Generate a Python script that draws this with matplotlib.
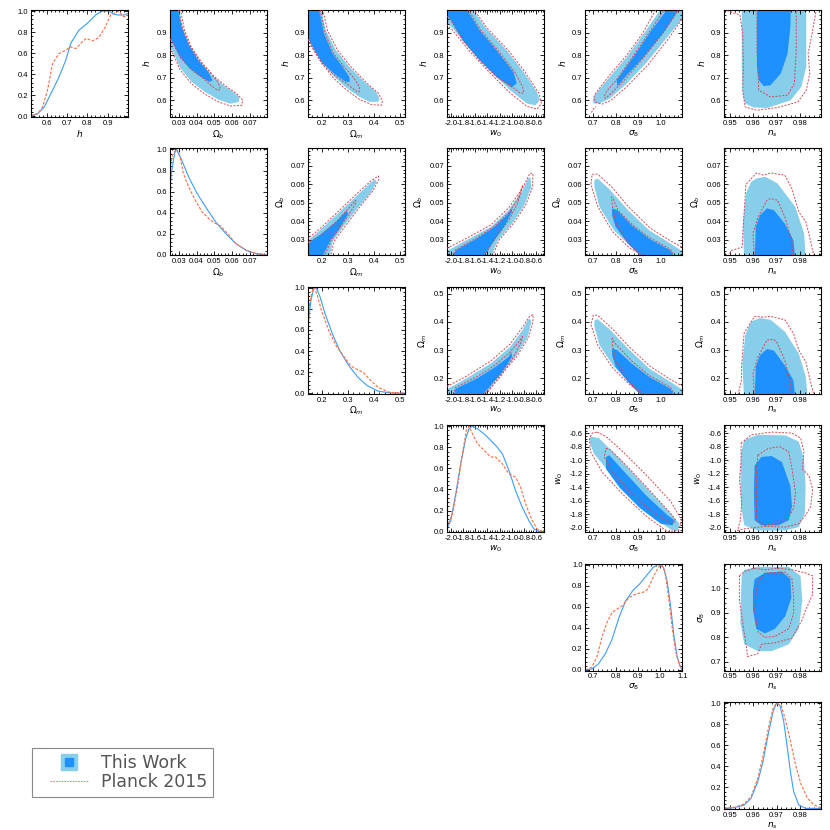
import numpy as np
import matplotlib
matplotlib.use("Agg")
import matplotlib.pyplot as plt
from matplotlib.ticker import AutoMinorLocator, FormatStrFormatter
from matplotlib.lines import Line2D
from matplotlib.patches import Rectangle
from matplotlib.legend_handler import HandlerTuple

plt.rcParams["font.family"] = ["Liberation Sans", "DejaVu Sans"]

# -----------------------------------------------------
# Parameters
# -----------------------------------------------------

param_labels = [r"$h$", r"$\Omega_b$", r"$\Omega_m$", r"$w_0$", r"$\sigma_8$", r"$n_s$"]
param_fmt = ["%.1f", "%.2f", "%.1f", "%.1f", "%.1f", "%.2f"]
x_limits = [(0.523, 1.0), (0.0248, 0.0795), (0.145, 0.52), (-2.07, -0.47), (0.665, 1.098), (0.9475, 0.989)]
y_limits = [(0.525, 1.0), (0.0215, 0.0795), (0.145, 0.525), (-2.07, -0.48), (0.665, 1.1), (0.9475, 0.989)]
param_ticks = [
    [0.6, 0.7, 0.8, 0.9],
    [0.03, 0.04, 0.05, 0.06, 0.07],
    [0.2, 0.3, 0.4, 0.5],
    [-2.0, -1.8, -1.6, -1.4, -1.2, -1.0, -0.8, -0.6],
    [0.7, 0.8, 0.9, 1.0],
    [0.95, 0.96, 0.97, 0.98],
]
s8_ticks_1d = [0.7, 0.8, 0.9, 1.0, 1.1]

# -----------------------------------------------------
# 1D marginals (x, this work, planck)
# -----------------------------------------------------

h_x_blue = [0.523, 0.556, 0.588, 0.629, 0.661, 0.694, 0.718, 0.759, 0.800, 0.840, 0.873, 0.906, 0.930, 0.954, 0.979, 1.0]
h_p_blue = [0.0, 0.025, 0.089, 0.248, 0.375, 0.533, 0.692, 0.819, 0.883, 0.962, 1.0, 1.0, 0.971, 0.962, 0.962, 0.978]
h_x_red = [0.523, 0.556, 0.580, 0.604, 0.629, 0.661, 0.694, 0.718, 0.743, 0.775, 0.795, 0.824, 0.857, 0.889, 0.914, 0.938, 0.954, 0.979, 1.0]
h_p_red = [0.01, 0.025, 0.089, 0.248, 0.502, 0.597, 0.629, 0.660, 0.644, 0.708, 0.740, 0.717, 0.749, 0.851, 0.962, 0.984, 1.0, 0.946, 0.962]

ob_x_blue = [0.0248, 0.0258, 0.0277, 0.0286, 0.0315, 0.0354, 0.0402, 0.0450, 0.0507, 0.0565, 0.0622, 0.0680, 0.0737, 0.0795]
ob_p_blue = [0.60, 0.776, 0.968, 1.0, 0.904, 0.744, 0.585, 0.457, 0.313, 0.201, 0.105, 0.042, 0.010, 0.0]
ob_x_red = [0.0248, 0.0263, 0.0277, 0.0290, 0.0306, 0.0325, 0.0354, 0.0392, 0.0430, 0.0478, 0.0507, 0.0536, 0.0574, 0.0622, 0.0680, 0.0737, 0.0795]
ob_p_red = [0.808, 0.936, 0.984, 1.0, 0.936, 0.776, 0.649, 0.521, 0.409, 0.329, 0.297, 0.272, 0.201, 0.105, 0.042, 0.010, 0.0]

om_x_blue = [0.145, 0.155, 0.166, 0.176, 0.190, 0.211, 0.239, 0.267, 0.302, 0.337, 0.373, 0.415, 0.471, 0.52]
om_p_blue = [0.654, 0.874, 0.994, 1.0, 0.921, 0.748, 0.560, 0.403, 0.261, 0.151, 0.072, 0.019, 0.0, 0.0]
om_x_red = [0.145, 0.152, 0.162, 0.169, 0.179, 0.197, 0.225, 0.253, 0.281, 0.309, 0.330, 0.358, 0.387, 0.415, 0.457, 0.52]
om_p_red = [0.748, 0.874, 0.984, 1.0, 0.937, 0.780, 0.591, 0.450, 0.355, 0.261, 0.230, 0.198, 0.119, 0.057, 0.009, 0.0]

w0_x_blue = [-2.07, -2.004, -1.922, -1.840, -1.758, -1.703, -1.648, -1.566, -1.429, -1.265, -1.155, -1.045, -0.936, -0.826, -0.717, -0.634, -0.552, -0.47]
w0_p_blue = [0.025, 0.105, 0.359, 0.644, 0.883, 0.978, 1.0, 0.978, 0.914, 0.819, 0.740, 0.581, 0.390, 0.232, 0.105, 0.025, 0.0, 0.0]
w0_x_red = [-2.07, -1.977, -1.895, -1.812, -1.747, -1.703, -1.648, -1.566, -1.429, -1.347, -1.265, -1.155, -1.045, -0.936, -0.854, -0.771, -0.662, -0.580, -0.497]
w0_p_red = [0.041, 0.168, 0.422, 0.740, 0.962, 1.0, 0.930, 0.835, 0.756, 0.708, 0.708, 0.644, 0.549, 0.517, 0.422, 0.263, 0.105, 0.025, 0.0]

s8_x_blue = [0.665, 0.693, 0.723, 0.754, 0.785, 0.816, 0.846, 0.877, 0.908, 0.939, 0.969, 0.992, 1.015, 1.031, 1.046, 1.061, 1.077, 1.092, 1.1]
s8_p_blue = [0.0, 0.009, 0.057, 0.152, 0.294, 0.500, 0.658, 0.753, 0.816, 0.896, 0.975, 1.0, 0.975, 0.848, 0.627, 0.342, 0.120, 0.025, 0.0]
s8_x_red = [0.665, 0.693, 0.716, 0.739, 0.762, 0.785, 0.808, 0.831, 0.862, 0.893, 0.923, 0.946, 0.969, 0.992, 1.008, 1.023, 1.038, 1.054, 1.069, 1.085, 1.1]
s8_p_red = [0.0, 0.025, 0.120, 0.310, 0.453, 0.547, 0.579, 0.611, 0.690, 0.722, 0.737, 0.769, 0.880, 0.975, 1.0, 0.927, 0.690, 0.405, 0.184, 0.057, 0.0]

ns_x_blue = [0.9475, 0.9519, 0.9562, 0.9591, 0.9620, 0.9642, 0.9664, 0.9686, 0.9700, 0.9715, 0.9730, 0.9744, 0.9759, 0.9773, 0.9795, 0.9824, 0.989]
ns_p_blue = [0.0, 0.006, 0.032, 0.096, 0.256, 0.447, 0.703, 0.927, 1.0, 0.974, 0.831, 0.607, 0.351, 0.160, 0.032, 0.0, 0.0]
ns_x_red = [0.9475, 0.9519, 0.9562, 0.9591, 0.9620, 0.9642, 0.9664, 0.9686, 0.9700, 0.9720, 0.9737, 0.9759, 0.9781, 0.9803, 0.9832, 0.9861, 0.989]
ns_p_red = [0.0, 0.010, 0.042, 0.112, 0.288, 0.495, 0.751, 0.958, 1.0, 0.974, 0.847, 0.639, 0.415, 0.240, 0.096, 0.032, 0.006]

# -----------------------------------------------------
# 2D contours, (x, y) vertices
# light = 95%, dark = 68%, red = Planck 2015
# -----------------------------------------------------

# h vs Omega_b
h_ob_light = [(0.022, 1.03), (0.022, 0.87), (0.0268, 0.815), (0.0306, 0.745), (0.0372, 0.681), (0.0448, 0.636), (0.0524, 0.602), (0.0590, 0.584), (0.0638, 0.592), (0.0641, 0.614), (0.0609, 0.636), (0.0552, 0.666), (0.0486, 0.711), (0.0420, 0.770), (0.0363, 0.837), (0.0325, 0.911), (0.0295, 1.03)]
h_ob_dark = [(0.022, 1.03), (0.0288, 1.03), (0.0315, 0.926), (0.0353, 0.852), (0.0410, 0.777), (0.0467, 0.725), (0.0490, 0.688), (0.0471, 0.681), (0.0420, 0.706), (0.0363, 0.740), (0.0306, 0.792), (0.0268, 0.852), (0.022, 0.91)]
h_ob_red95 = [(0.022, 0.86), (0.0268, 0.805), (0.0306, 0.736), (0.0372, 0.672), (0.0448, 0.626), (0.0524, 0.592), (0.0590, 0.574), (0.0655, 0.577), (0.0660, 0.600), (0.0625, 0.630), (0.0565, 0.662), (0.0495, 0.708), (0.0428, 0.768), (0.0370, 0.835), (0.0332, 0.911), (0.0302, 1.03)]
h_ob_red68 = [(0.0292, 1.03), (0.0318, 0.926), (0.0357, 0.852), (0.0415, 0.777), (0.0475, 0.725), (0.0520, 0.680), (0.0535, 0.650), (0.0520, 0.643), (0.0490, 0.660), (0.0440, 0.695), (0.0370, 0.735), (0.0310, 0.788), (0.0270, 0.848), (0.022, 0.91)]

# h vs Omega_m
h_om_light = [(0.13, 1.03), (0.13, 0.885), (0.154, 0.860), (0.187, 0.792), (0.239, 0.711), (0.291, 0.656), (0.343, 0.614), (0.382, 0.592), (0.415, 0.592), (0.421, 0.607), (0.408, 0.636), (0.369, 0.674), (0.304, 0.748), (0.252, 0.822), (0.213, 0.911), (0.190, 1.03)]
h_om_dark = [(0.13, 1.03), (0.182, 1.03), (0.206, 0.896), (0.239, 0.807), (0.278, 0.748), (0.304, 0.703), (0.306, 0.681), (0.291, 0.681), (0.252, 0.711), (0.200, 0.763), (0.161, 0.837), (0.13, 0.91)]
h_om_red95 = [(0.13, 0.875), (0.154, 0.850), (0.187, 0.783), (0.239, 0.702), (0.291, 0.647), (0.343, 0.603), (0.390, 0.580), (0.428, 0.577), (0.432, 0.597), (0.415, 0.632), (0.375, 0.672), (0.310, 0.748), (0.258, 0.822), (0.219, 0.911), (0.196, 1.03)]
h_om_red68 = [(0.186, 1.03), (0.210, 0.896), (0.243, 0.807), (0.284, 0.748), (0.320, 0.700), (0.343, 0.660), (0.342, 0.636), (0.330, 0.640), (0.300, 0.668), (0.252, 0.705), (0.200, 0.758), (0.161, 0.832), (0.13, 0.905)]

# h vs w0
h_w0_light = [(-2.12, 1.03), (-2.12, 0.955), (-1.975, 0.920), (-1.697, 0.829), (-1.362, 0.733), (-1.027, 0.644), (-0.749, 0.585), (-0.609, 0.577), (-0.537, 0.599), (-0.581, 0.636), (-0.804, 0.725), (-1.083, 0.822), (-1.418, 0.918), (-1.72, 1.03)]
h_w0_dark = [(-2.12, 1.03), (-1.80, 1.03), (-1.529, 0.911), (-1.25, 0.822), (-0.97, 0.725), (-0.916, 0.674), (-1.0, 0.656), (-1.25, 0.703), (-1.529, 0.777), (-1.808, 0.866), (-2.003, 0.955), (-2.12, 0.99)]
h_w0_red95 = [(-2.12, 0.945), (-1.975, 0.910), (-1.697, 0.818), (-1.362, 0.722), (-1.027, 0.632), (-0.749, 0.572), (-0.58, 0.560), (-0.51, 0.585), (-0.55, 0.630), (-0.78, 0.725), (-1.06, 0.822), (-1.40, 0.918), (-1.70, 1.03)]
h_w0_red68 = [(-1.78, 1.03), (-1.51, 0.911), (-1.23, 0.822), (-0.95, 0.725), (-0.82, 0.660), (-0.80, 0.632), (-0.85, 0.630), (-1.0, 0.660), (-1.25, 0.703), (-1.529, 0.777), (-1.808, 0.866), (-2.003, 0.955), (-2.12, 0.99)]

# h vs sigma_8
h_s8_light = [(0.701, 0.585), (0.729, 0.585), (0.774, 0.607), (0.850, 0.674), (0.941, 0.770), (1.032, 0.881), (1.12, 0.99), (1.12, 1.03), (1.02, 1.03), (0.926, 0.896), (0.850, 0.792), (0.774, 0.703), (0.706, 0.622), (0.698, 0.598)]
h_s8_dark = [(0.808, 0.662), (0.850, 0.711), (0.926, 0.792), (1.017, 0.904), (1.10, 1.03), (1.05, 1.03), (0.956, 0.904), (0.88, 0.792), (0.804, 0.688)]
h_s8_red95 = [(1.12, 0.995), (1.04, 0.878), (0.945, 0.757), (0.85, 0.660), (0.78, 0.600), (0.74, 0.582), (0.712, 0.590), (0.702, 0.612), (0.712, 0.632), (0.774, 0.712), (0.850, 0.800), (0.920, 0.896), (0.995, 1.03)]
h_s8_red95b = [(0.692, 0.545), (0.700, 0.560), (0.712, 0.572)]
h_s8_red68 = [(1.10, 1.03), (1.01, 0.895), (0.92, 0.783), (0.84, 0.690), (0.785, 0.635), (0.755, 0.608), (0.748, 0.615), (0.76, 0.640), (0.80, 0.685), (0.876, 0.792), (0.952, 0.904), (1.035, 1.03)]

# h vs n_s
h_ns_light = [(0.9551, 1.03), (0.9551, 0.748), (0.9555, 0.629), (0.9565, 0.585), (0.9602, 0.567), (0.966, 0.565), (0.976, 0.599), (0.9806, 0.659), (0.9827, 0.748), (0.9827, 1.03)]
h_ns_dark = [(0.9616, 1.03), (0.9616, 0.748), (0.9624, 0.688), (0.9645, 0.662), (0.9674, 0.666), (0.9718, 0.718), (0.9747, 0.807), (0.9759, 0.926), (0.9761, 1.03)]
h_ns_red95 = [(0.9488, 0.997), (0.9543, 0.978), (0.9555, 0.896), (0.9558, 0.748), (0.9555, 0.644), (0.9565, 0.570), (0.9616, 0.555), (0.9704, 0.567), (0.9791, 0.592), (0.9827, 0.644), (0.9842, 0.718), (0.9835, 0.807), (0.9852, 0.896), (0.9867, 0.985), (0.9871, 1.03)]
h_ns_red68 = [(0.9616, 1.03), (0.9616, 0.822), (0.9624, 0.644), (0.9674, 0.614), (0.9747, 0.622), (0.9776, 0.674), (0.9784, 0.822), (0.9784, 1.03)]

# Omega_b vs Omega_m
ob_om_light = [(0.13, 0.019), (0.13, 0.0285), (0.145, 0.0297), (0.197, 0.036), (0.266, 0.0451), (0.335, 0.0541), (0.383, 0.0605), (0.403, 0.0628), (0.410, 0.0614), (0.389, 0.0559), (0.335, 0.0469), (0.280, 0.0369), (0.240, 0.029), (0.225, 0.019)]
ob_om_dark = [(0.13, 0.019), (0.13, 0.0270), (0.145, 0.0279), (0.197, 0.0333), (0.252, 0.0396), (0.293, 0.0456), (0.300, 0.0442), (0.266, 0.036), (0.231, 0.0297), (0.194, 0.019)]
ob_om_red95 = [(0.13, 0.0290), (0.197, 0.0368), (0.266, 0.046), (0.335, 0.0552), (0.390, 0.0622), (0.417, 0.0645), (0.418, 0.0625), (0.395, 0.0565), (0.340, 0.047), (0.285, 0.0368), (0.245, 0.029), (0.228, 0.019)]
ob_om_red68 = [(0.13, 0.0272), (0.197, 0.0328), (0.252, 0.0396), (0.300, 0.0468), (0.328, 0.0514), (0.330, 0.0500), (0.310, 0.0455), (0.270, 0.0370), (0.235, 0.0300), (0.200, 0.019)]

# Omega_b vs w0
ob_w0_light = [(-2.12, 0.019), (-2.12, 0.0235), (-2.05, 0.0242), (-1.75, 0.0297), (-1.343, 0.0369), (-1.052, 0.046), (-0.819, 0.0568), (-0.732, 0.0632), (-0.691, 0.0637), (-0.674, 0.0586), (-0.79, 0.0487), (-0.994, 0.0387), (-1.226, 0.0297), (-1.36, 0.019)]
ob_w0_dark = [(-1.983, 0.019), (-1.925, 0.0242), (-1.576, 0.0306), (-1.285, 0.0369), (-1.081, 0.0433), (-0.994, 0.047), (-0.994, 0.0451), (-1.110, 0.0379), (-1.285, 0.0297), (-1.50, 0.019)]
ob_w0_red95 = [(-2.12, 0.0245), (-1.75, 0.0307), (-1.343, 0.0380), (-1.052, 0.0472), (-0.819, 0.058), (-0.70, 0.066), (-0.65, 0.066), (-0.655, 0.0586), (-0.77, 0.0487), (-0.975, 0.0387), (-1.21, 0.0297), (-1.34, 0.019)]
ob_w0_red68 = [(-2.0, 0.019), (-1.925, 0.0245), (-1.576, 0.031), (-1.285, 0.0374), (-1.05, 0.0445), (-0.90, 0.052), (-0.83, 0.0585), (-0.815, 0.0596), (-0.83, 0.058), (-0.90, 0.050), (-1.05, 0.0405), (-1.285, 0.0300), (-1.50, 0.019)]

# Omega_b vs sigma_8
ob_s8_light = [(0.705, 0.0623), (0.72, 0.0632), (0.776, 0.0569), (0.855, 0.046), (0.95, 0.0351), (1.045, 0.0279), (1.092, 0.0242), (1.12, 0.023), (1.12, 0.019), (0.975, 0.019), (0.871, 0.0260), (0.792, 0.0351), (0.728, 0.0478), (0.705, 0.0587)]
ob_s8_dark = [(0.784, 0.047), (0.807, 0.046), (0.871, 0.0379), (0.95, 0.0306), (1.045, 0.0242), (1.07, 0.019), (0.93, 0.019), (0.855, 0.0279), (0.8, 0.0369), (0.784, 0.0433)]
ob_s8_red95 = [(0.965, 0.019), (0.862, 0.0255), (0.785, 0.0345), (0.72, 0.048), (0.69, 0.060), (0.695, 0.0655), (0.72, 0.0655), (0.78, 0.059), (0.86, 0.0475), (0.955, 0.0362), (1.05, 0.029), (1.12, 0.0245)]
ob_s8_red68 = [(1.07, 0.019), (1.045, 0.0248), (0.95, 0.0312), (0.871, 0.0385), (0.81, 0.046), (0.79, 0.052), (0.782, 0.0532), (0.785, 0.049), (0.80, 0.0395), (0.855, 0.0285), (0.93, 0.019)]

# Omega_b vs n_s
ob_ns_light = [(0.9561, 0.019), (0.9556, 0.0387), (0.9569, 0.0550), (0.9591, 0.0614), (0.9614, 0.0632), (0.9652, 0.0641), (0.9704, 0.0605), (0.978, 0.0478), (0.9818, 0.0333), (0.9825, 0.019)]
ob_ns_dark = [(0.9606, 0.019), (0.9611, 0.0369), (0.9629, 0.0433), (0.9659, 0.047), (0.9689, 0.0460), (0.9735, 0.0387), (0.9772, 0.0297), (0.978, 0.019)]
ob_ns_red95 = [(0.9493, 0.019), (0.9493, 0.0215), (0.9508, 0.0242), (0.9553, 0.026), (0.9556, 0.035), (0.9569, 0.060), (0.9614, 0.0662), (0.9644, 0.065), (0.9674, 0.0662), (0.9735, 0.065), (0.9765, 0.0578), (0.9795, 0.0451), (0.9825, 0.0397), (0.984, 0.0324), (0.9863, 0.019)]
ob_ns_red68 = [(0.9606, 0.019), (0.9599, 0.0333), (0.9621, 0.0424), (0.9659, 0.0514), (0.9674, 0.0523), (0.9704, 0.0514), (0.9735, 0.0424), (0.9765, 0.0297), (0.977, 0.019)]

# Omega_m vs w0
om_w0_light = [(-2.12, 0.13), (-2.12, 0.158), (-2.05, 0.163), (-1.75, 0.199), (-1.343, 0.253), (-1.023, 0.312), (-0.819, 0.372), (-0.732, 0.408), (-0.703, 0.412), (-0.674, 0.402), (-0.732, 0.348), (-0.936, 0.276), (-1.226, 0.205), (-1.47, 0.13)]
om_w0_dark = [(-1.96, 0.13), (-1.925, 0.163), (-1.576, 0.199), (-1.285, 0.238), (-1.052, 0.276), (-1.006, 0.294), (-0.994, 0.276), (-1.168, 0.217), (-1.343, 0.175), (-1.53, 0.13)]
om_w0_red95 = [(-2.12, 0.165), (-1.75, 0.207), (-1.343, 0.262), (-1.023, 0.322), (-0.819, 0.382), (-0.70, 0.422), (-0.645, 0.426), (-0.65, 0.40), (-0.715, 0.348), (-0.92, 0.276), (-1.21, 0.205), (-1.46, 0.13)]
om_w0_red68 = [(-1.97, 0.13), (-1.925, 0.168), (-1.576, 0.205), (-1.285, 0.245), (-1.04, 0.29), (-0.88, 0.33), (-0.82, 0.348), (-0.84, 0.33), (-0.97, 0.276), (-1.168, 0.21), (-1.343, 0.168), (-1.53, 0.13)]

# Omega_m vs sigma_8
om_s8_light = [(0.705, 0.384), (0.705, 0.405), (0.72, 0.410), (0.776, 0.372), (0.855, 0.306), (0.95, 0.235), (1.045, 0.187), (1.092, 0.163), (1.12, 0.155), (1.12, 0.13), (0.955, 0.13), (0.871, 0.181), (0.792, 0.241), (0.728, 0.318)]
om_s8_dark = [(0.784, 0.306), (0.807, 0.300), (0.871, 0.253), (0.95, 0.205), (1.045, 0.163), (1.07, 0.13), (0.925, 0.13), (0.855, 0.187), (0.8, 0.241), (0.784, 0.282)]
om_s8_red95 = [(0.955, 0.13), (0.862, 0.178), (0.785, 0.238), (0.72, 0.318), (0.69, 0.39), (0.70, 0.424), (0.72, 0.424), (0.78, 0.38), (0.86, 0.312), (0.955, 0.242), (1.05, 0.193), (1.12, 0.163)]
om_s8_red68 = [(1.07, 0.13), (1.045, 0.168), (0.95, 0.21), (0.871, 0.262), (0.80, 0.322), (0.784, 0.342), (0.786, 0.320), (0.80, 0.262), (0.855, 0.195), (0.925, 0.13)]

# Omega_m vs n_s
om_ns_light = [(0.9561, 0.13), (0.9553, 0.253), (0.9566, 0.354), (0.9591, 0.402), (0.9629, 0.414), (0.9674, 0.408), (0.9735, 0.366), (0.9795, 0.288), (0.9825, 0.205), (0.9833, 0.13)]
om_ns_dark = [(0.9606, 0.13), (0.9611, 0.241), (0.9629, 0.282), (0.9659, 0.304), (0.9689, 0.298), (0.9735, 0.246), (0.9772, 0.193), (0.978, 0.13)]
om_ns_red95 = [(0.9531, 0.13), (0.955, 0.193), (0.955, 0.241), (0.9561, 0.360), (0.9606, 0.420), (0.9644, 0.417), (0.9674, 0.420), (0.9735, 0.408), (0.9772, 0.360), (0.9795, 0.300), (0.9825, 0.259), (0.984, 0.205), (0.9863, 0.13)]
om_ns_red68 = [(0.9606, 0.13), (0.9599, 0.217), (0.9621, 0.276), (0.9659, 0.336), (0.9689, 0.338), (0.9704, 0.324), (0.9735, 0.264), (0.9757, 0.193), (0.9765, 0.13)]

# w0 vs sigma_8
w0_s8_light = [(0.688, -0.648), (0.726, -0.673), (0.818, -0.978), (0.924, -1.359), (1.031, -1.74), (1.085, -1.943), (1.077, -2.045), (1.054, -2.045), (0.970, -1.867), (0.863, -1.511), (0.772, -1.181), (0.703, -0.902), (0.683, -0.724)]
w0_s8_dark = [(0.757, -0.952), (0.772, -0.927), (0.848, -1.206), (0.94, -1.537), (1.031, -1.816), (1.062, -1.892), (1.054, -1.968), (1.001, -1.943), (0.909, -1.714), (0.818, -1.41), (0.757, -1.13)]
w0_s8_red95 = [(0.718, -0.582), (0.757, -0.648), (0.833, -0.876), (0.94, -1.232), (1.046, -1.613), (1.095, -1.892), (1.08, -2.045), (1.031, -2.06), (0.94, -1.841), (0.833, -1.511), (0.741, -1.181), (0.688, -0.876), (0.683, -0.673), (0.696, -0.597), (0.718, -0.582)]
w0_s8_red68 = [(0.757, -0.825), (0.775, -0.84), (0.848, -1.079), (0.955, -1.460), (1.046, -1.79), (1.069, -1.892), (1.054, -1.943), (0.97, -1.79), (0.863, -1.46), (0.787, -1.181), (0.749, -0.952), (0.757, -0.825)]

# w0 vs n_s
w0_ns_light = [(0.9562, -0.698), (0.962, -0.622), (0.9737, -0.632), (0.9795, -0.724), (0.9817, -0.978), (0.9824, -1.384), (0.9821, -1.79), (0.9795, -1.994), (0.9737, -2.045), (0.962, -2.045), (0.9562, -1.968), (0.9548, -1.689), (0.9545, -1.282), (0.9548, -0.876)]
w0_ns_dark = [(0.9606, -1.079), (0.9635, -0.952), (0.9679, -0.937), (0.9723, -1.029), (0.9759, -1.384), (0.9766, -1.689), (0.9752, -1.892), (0.9708, -1.968), (0.9635, -1.968), (0.9606, -1.892), (0.9603, -1.486)]
w0_ns_red95 = [(0.9548, -0.749), (0.9592, -0.622), (0.9679, -0.582), (0.9766, -0.597), (0.9803, -0.673), (0.9817, -0.876), (0.981, -1.13), (0.9839, -1.232), (0.9854, -1.435), (0.9846, -1.689), (0.9824, -1.816), (0.9795, -1.943), (0.9737, -1.994), (0.9650, -1.984), (0.9562, -2.019), (0.9533, -2.045), (0.9545, -1.892), (0.9551, -1.638), (0.9541, -1.282), (0.9548, -1.029), (0.9548, -0.749)]
w0_ns_red68 = [(0.962, -0.927), (0.9664, -0.825), (0.9715, -0.800), (0.9752, -0.876), (0.9766, -1.13), (0.9781, -1.486), (0.9773, -1.714), (0.9752, -1.841), (0.9708, -1.943), (0.965, -1.968), (0.9614, -1.892), (0.9614, -1.486), (0.9614, -1.13), (0.962, -0.927)]

# sigma_8 vs n_s
s8_ns_light = [(0.9562, 1.075), (0.962, 1.087), (0.9751, 1.087), (0.9802, 1.05), (0.981, 0.949), (0.9795, 0.835), (0.9752, 0.772), (0.9679, 0.744), (0.962, 0.744), (0.9562, 0.772), (0.9545, 0.86), (0.9548, 0.987), (0.9551, 1.05)]
s8_ns_dark = [(0.9606, 1.037), (0.965, 1.062), (0.9723, 1.068), (0.9759, 1.037), (0.9763, 0.961), (0.9737, 0.886), (0.9693, 0.835), (0.965, 0.816), (0.9613, 0.835), (0.9599, 0.911), (0.9599, 0.987)]
s8_ns_red95 = [(0.9541, 1.05), (0.9562, 1.068), (0.9606, 1.081), (0.965, 1.075), (0.9708, 1.081), (0.9766, 1.075), (0.9824, 1.062), (0.9854, 1.05), (0.9854, 0.974), (0.9824, 0.911), (0.981, 0.873), (0.9766, 0.797), (0.9693, 0.778), (0.9635, 0.772), (0.962, 0.734), (0.9576, 0.722), (0.9569, 0.772), (0.9555, 0.86), (0.9541, 0.949), (0.9541, 1.05)]
s8_ns_red68 = [(0.962, 1.024), (0.965, 1.062), (0.9737, 1.065), (0.9766, 1.037), (0.9773, 0.961), (0.9773, 0.898), (0.9752, 0.835), (0.9693, 0.804), (0.965, 0.8), (0.962, 0.823), (0.9606, 0.911), (0.9613, 0.987), (0.962, 1.024)]

# -----------------------------------------------------
# Build lookup tables from the named lists
# -----------------------------------------------------

marginals = [
    (h_x_blue, h_p_blue, h_x_red, h_p_red),
    (ob_x_blue, ob_p_blue, ob_x_red, ob_p_red),
    (om_x_blue, om_p_blue, om_x_red, om_p_red),
    (w0_x_blue, w0_p_blue, w0_x_red, w0_p_red),
    (s8_x_blue, s8_p_blue, s8_x_red, s8_p_red),
    (ns_x_blue, ns_p_blue, ns_x_red, ns_p_red),
]

contours = {
    (0, 1): (h_ob_light, h_ob_dark, [h_ob_red95, h_ob_red68]),
    (0, 2): (h_om_light, h_om_dark, [h_om_red95, h_om_red68]),
    (0, 3): (h_w0_light, h_w0_dark, [h_w0_red95, h_w0_red68]),
    (0, 4): (h_s8_light, h_s8_dark, [h_s8_red95, h_s8_red95b, h_s8_red68]),
    (0, 5): (h_ns_light, h_ns_dark, [h_ns_red95, h_ns_red68]),
    (1, 2): (ob_om_light, ob_om_dark, [ob_om_red95, ob_om_red68]),
    (1, 3): (ob_w0_light, ob_w0_dark, [ob_w0_red95, ob_w0_red68]),
    (1, 4): (ob_s8_light, ob_s8_dark, [ob_s8_red95, ob_s8_red68]),
    (1, 5): (ob_ns_light, ob_ns_dark, [ob_ns_red95, ob_ns_red68]),
    (2, 3): (om_w0_light, om_w0_dark, [om_w0_red95, om_w0_red68]),
    (2, 4): (om_s8_light, om_s8_dark, [om_s8_red95, om_s8_red68]),
    (2, 5): (om_ns_light, om_ns_dark, [om_ns_red95, om_ns_red68]),
    (3, 4): (w0_s8_light, w0_s8_dark, [w0_s8_red95, w0_s8_red68]),
    (3, 5): (w0_ns_light, w0_ns_dark, [w0_ns_red95, w0_ns_red68]),
    (4, 5): (s8_ns_light, s8_ns_dark, [s8_ns_red95, s8_ns_red68]),
}

LIGHT = "#87CEEB"
DARK = "#1E90FF"
RED2D = "#d9464f"
RED1D = "#ff6a3d"
BLUE1D = "#3d9cff"

# -----------------------------------------------------
# Figure
# -----------------------------------------------------

W = 830.0
fig = plt.figure(figsize=(8.3, 8.3), dpi=100)


def style_axes(ax):
    ax.tick_params(which="both", direction="in", top=True, right=True,
                   labelsize=5.5, pad=2, width=0.6, colors="black")
    ax.tick_params(which="major", length=3)
    ax.tick_params(which="minor", length=1.5)
    for sp in ax.spines.values():
        sp.set_linewidth(0.8)


for i in range(6):
    for j in range(i, 6):
        left = (31 + 138.6 * j) / W
        bottom = 1 - (10 + 138.4 * i + 107) / W
        ax = fig.add_axes([left, bottom, 97 / W, 107 / W])
        style_axes(ax)

        if i == j:
            xb, pb, xr, pr = marginals[i]
            ax.plot(xb, pb, color=BLUE1D, lw=0.8)
            ax.plot(xr, pr, color=RED1D, lw=0.8, ls=(0, (2.5, 1.5)))
            lo, hi = x_limits[i]
            if i == 4:
                hi = 1.1
            ax.set_xlim(lo, hi)
            ax.set_ylim(-0.006, 1.01)
            ax.set_xticks(s8_ticks_1d if i == 4 else param_ticks[i])
            ax.set_yticks([0.0, 0.2, 0.4, 0.6, 0.8, 1.0])
            ax.yaxis.set_major_formatter(FormatStrFormatter("%.1f"))
        else:
            light, dark, reds = contours[(i, j)]
            lx, ly = np.array(light).T
            dx, dy = np.array(dark).T
            ax.fill(lx, ly, color=LIGHT, lw=0, zorder=1)
            ax.fill(dx, dy, color=DARK, lw=0, zorder=2)
            for r in reds:
                rx, ry = np.array(r).T
                ax.plot(rx, ry, color=RED2D, lw=0.7, ls=(0, (2, 1.5)), zorder=3)
            ax.set_xlim(*x_limits[j])
            ax.set_ylim(*y_limits[i])
            ax.set_xticks(param_ticks[j])
            ax.set_yticks(param_ticks[i])
            ax.yaxis.set_major_formatter(FormatStrFormatter(param_fmt[i]))
            ax.set_ylabel(param_labels[i], fontsize=6.5, labelpad=3)

        ax.xaxis.set_major_formatter(FormatStrFormatter(param_fmt[j]))
        ax.set_xlabel(param_labels[j], fontsize=6.5, labelpad=1)
        ax.xaxis.set_minor_locator(AutoMinorLocator(5))
        ax.yaxis.set_minor_locator(AutoMinorLocator(5))

# -----------------------------------------------------
# Legend (frame drawn separately so the box matches)
# -----------------------------------------------------

sq_light = Line2D([], [], marker="s", ms=12, color=LIGHT, ls="none")
sq_dark = Line2D([], [], marker="s", ms=6, color=DARK, ls="none")
red_line = Line2D([], [], color="#f08080", lw=0.8, ls=(0, (1.5, 1)))

fig.add_artist(Rectangle((32 / W, 33 / W), 181 / W, 49 / W, transform=fig.transFigure,
                         fill=False, edgecolor="#888888", lw=0.8))

leg = fig.legend(
    [(sq_light, sq_dark), red_line],
    ["This Work", "Planck 2015"],
    handler_map={tuple: HandlerTuple(ndivide=1)},
    loc="center left",
    bbox_to_anchor=(50 / W, 57.5 / W),
    borderaxespad=0,
    borderpad=0,
    frameon=False,
    prop={"family": "DejaVu Sans", "size": 12.5},
    handlelength=2.2,
    handletextpad=0.75,
    labelspacing=0.05,
)
for t in leg.get_texts():
    t.set_color("#555555")

fig.savefig("out.png", dpi=100)
